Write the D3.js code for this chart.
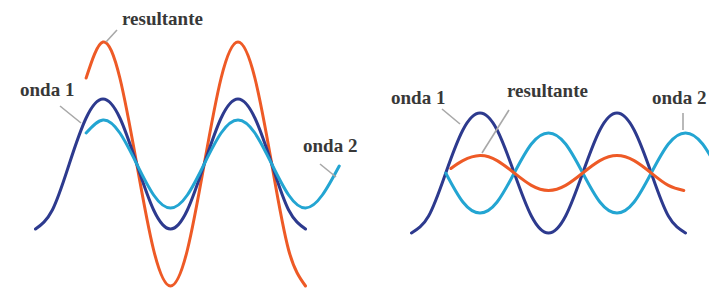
<!DOCTYPE html>
<html>
<head>
<meta charset="utf-8">
<script src="https://cdn.jsdelivr.net/npm/d3@7"></script>
<style>
  html, body { margin: 0; padding: 0; background: #fff; }
  svg { display: block; }
</style>
</head>
<body>
<svg id="chart" width="709" height="291"></svg>
<script>
// ---- data (phase in quarter-periods, displacement in arbitrary units) ----
const step = 0.5;

// Left panel: constructive interference
const leftOnda1Start = -2;
const leftOnda1 = [-65, -46, 0, 46, 65, 46, 0, -46, -65, -46, 0, 46, 65, 46, 0, -46, -65];
const leftOnda2Start = -0.5;
const leftOnda2 = [31, 44, 31, 0, -31, -44, -31, 0, 31, 44, 31, 0, -31, -44, -31, -2];
const leftResStart = -0.5;
const leftRes = [86, 122, 86, 0, -86, -122, -86, 0, 86, 122, 86, 0, -86, -122];

// Right panel: destructive interference
const rightOnda1Start = -2;
const rightOnda1 = [-60, -43, 0, 43, 60, 43, 0, -43, -60, -43, 0, 43, 60, 43, 0, -43, -60];
const rightOnda2Start = -1;
const rightOnda2 = [0, -29, -40, -29, 0, 29, 40, 29, 0, -29, -40, -29, 0, 29, 40, 29, 0];
const rightResPhase = [-0.85, -0.5, 0, 0.5, 1, 1.5, 2, 2.5, 3, 3.5, 4, 4.5, 5, 5.5, 5.95];
const rightRes = [4.5, 12.4, 17.5, 12.4, 0, -12.4, -17.5, -12.4, 0, 12.4, 17.5, 12.4, 0, -12.4, -17.5];

const labels = ["onda 1", "onda 2", "resultante"];

// ---- styles ----
const colors = { onda1: "#2d3a8e", onda2: "#23a5d2", res: "#ee5a26" };

const svg = d3.select("#chart");

function toPoints(s) {
  return s.values.map((v, i) => [s.phase ? s.phase[i] : s.start + i * step, v]);
}

function panel(cfg) {
  const x = d3.scaleLinear().domain([0, 1]).range([cfg.x0, cfg.x0 + cfg.quarter]);
  const y = d3.scaleLinear().domain([0, 1]).range([cfg.cy, cfg.cy - 1]);
  const line = d3.line().x(d => x(d[0])).y(d => y(d[1])).curve(d3.curveNatural);
  const g = svg.append("g");
  cfg.series.forEach(s => {
    g.append("path")
      .attr("d", line(toPoints(s)))
      .attr("fill", "none")
      .attr("stroke", s.color)
      .attr("stroke-width", 3)
      .attr("stroke-linecap", "round")
      .attr("stroke-linejoin", "round");
  });
  cfg.notes.forEach(n => {
    g.append("line")
      .attr("x1", n.l[0]).attr("y1", n.l[1])
      .attr("x2", n.l[2]).attr("y2", n.l[3])
      .attr("stroke", "#a8a8a8").attr("stroke-width", 1.6);
    g.append("text")
      .attr("x", n.tx).attr("y", n.ty)
      .attr("font-family", "'Liberation Serif', 'Times New Roman', serif")
      .attr("font-weight", "bold")
      .attr("font-size", 19)
      .attr("fill", "#383838")
      .text(n.text);
  });
}

panel({
  x0: 103, quarter: 33.75, cy: 164,
  series: [
    { start: leftResStart, values: leftRes, color: colors.res },
    { start: leftOnda1Start, values: leftOnda1, color: colors.onda1 },
    { start: leftOnda2Start, values: leftOnda2, color: colors.onda2 }
  ],
  notes: [
    { text: labels[2], tx: 122, ty: 25, l: [117, 30, 106, 42] },
    { text: labels[0], tx: 20, ty: 96, l: [60, 106, 81, 123] },
    { text: labels[1], tx: 303, ty: 152, l: [320, 164, 336, 177] }
  ]
});

panel({
  x0: 480, quarter: 34.25, cy: 173,
  series: [
    { start: rightOnda1Start, values: rightOnda1, color: colors.onda1 },
    { start: rightOnda2Start, values: rightOnda2, color: colors.onda2 },
    { phase: rightResPhase, values: rightRes, color: colors.res }
  ],
  notes: [
    { text: labels[0], tx: 391, ty: 104, l: [442, 109, 460, 124] },
    { text: labels[2], tx: 507, ty: 97, l: [509, 110, 482, 153] },
    { text: labels[1], tx: 652, ty: 104, l: [683, 113, 683, 130] }
  ]
});
</script>
</body>
</html>
